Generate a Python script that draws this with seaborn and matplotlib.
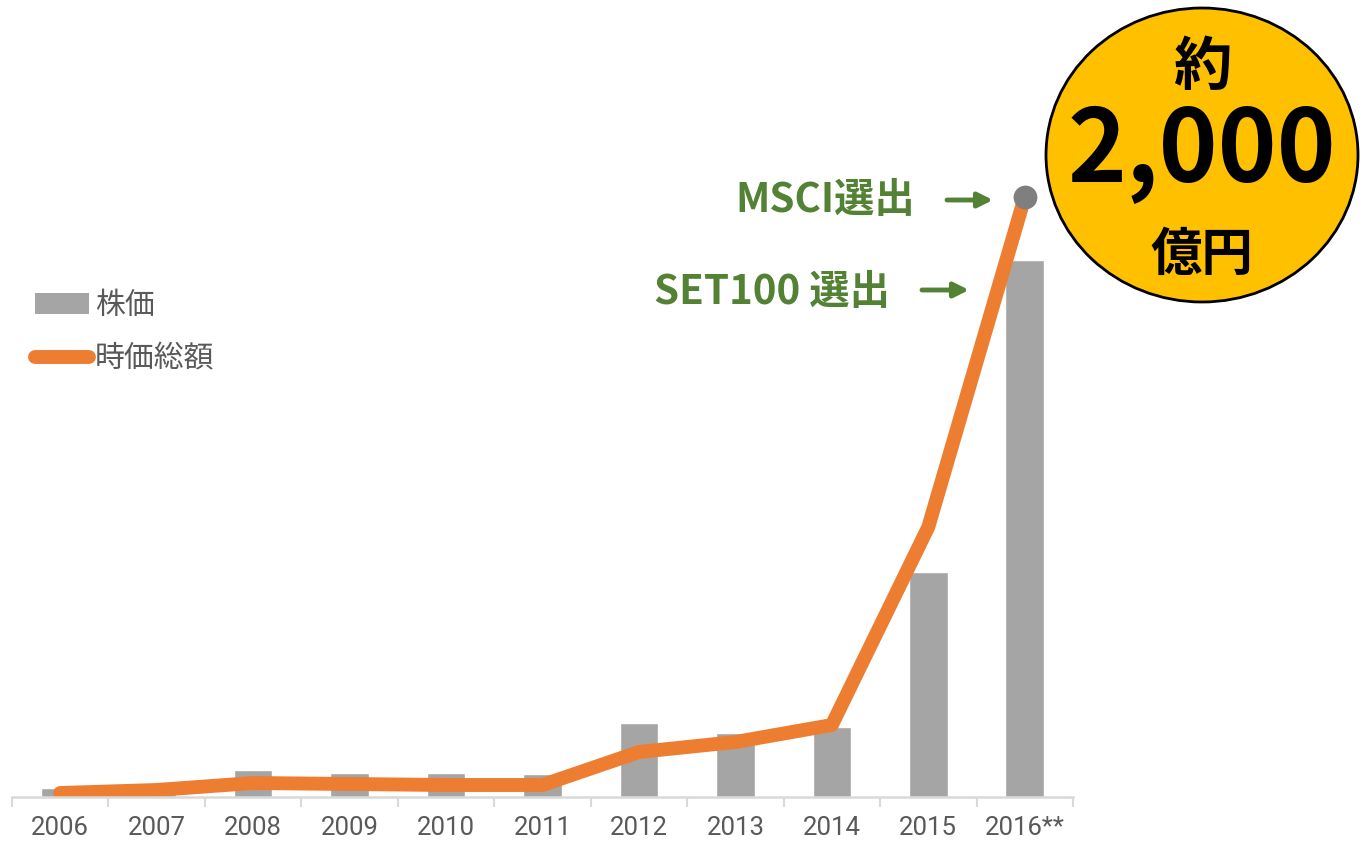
import numpy as np
import pandas as pd
import seaborn as sns
import matplotlib.pyplot as plt
from matplotlib.patches import Ellipse, Patch
from matplotlib.lines import Line2D

# values (relative units, same scale for both series)
years = ['2006', '2007', '2008', '2009', '2010', '2011',
         '2012', '2013', '2014', '2015', '2016**']
price = [9, 3, 27, 24, 24, 23, 74, 64, 70, 225, 537]
mcap = [4, 7, 14, 13, 12, 12, 45, 55, 72, 270, 600]

df = pd.DataFrame({'year': years, 'price': price, 'mcap': mcap})

sns.set_style('white')
plt.rcParams['font.family'] = ['Roboto', 'Noto Sans CJK JP', 'DejaVu Sans']

W, H = 1365, 842
fig = plt.figure(figsize=(W / 100, H / 100), dpi=100)
ax = fig.add_axes([12 / W, 45 / H, 1061 / W, 777 / H])

gray = '#A5A5A5'
orange = '#ED7D31'
green = '#548235'
cjk = ['Noto Sans CJK JP']

sns.barplot(data=df, x='year', y='price', color=gray, width=0.4,
            saturation=1, ax=ax)
sns.lineplot(data=df, x='year', y='mcap', color=orange, linewidth=10,
             solid_capstyle='round', solid_joinstyle='round', sort=False, ax=ax)
ax.scatter([years[-1]], [mcap[-1]], s=260, color='#7F7F7F', zorder=5)

ax.set_xlim(-0.5, len(years) - 0.5)
ax.set_ylim(0, 777)
ax.set_xlabel('')
ax.set_ylabel('')
ax.set_yticks([])
for s in ['top', 'right', 'left']:
    ax.spines[s].set_visible(False)
ax.spines['bottom'].set_color('#D9D9D9')
ax.spines['bottom'].set_linewidth(1.8)
ax.set_xticks(np.arange(-0.5, len(years)), minor=True)
ax.tick_params(axis='x', which='minor', length=7, width=1.5, color='#D9D9D9',
               direction='out', bottom=True)
ax.tick_params(axis='x', which='major', length=0, pad=14, labelsize=18.5,
               labelcolor='#595959')

handles = [Patch(facecolor=gray, edgecolor='none'),
           Line2D([], [], color=orange, lw=10, solid_capstyle='round')]
ax.legend(handles, ['株価', '時価総額'], loc='upper left',
          bbox_to_anchor=(35 / W, 1 - 290 / H), bbox_transform=fig.transFigure,
          frameon=False, borderpad=0, borderaxespad=0, handlelength=1.8,
          handletextpad=0.2, labelspacing=0.75,
          prop={'family': cjk, 'size': 21.5},
          labelcolor='#595959')

# overlay in pixel coordinates for callouts
ov = fig.add_axes([0, 0, 1, 1], zorder=10)
ov.set_xlim(0, W)
ov.set_ylim(H, 0)
ov.axis('off')
ov.patch.set_alpha(0)

ov.add_patch(Ellipse((1202, 155), 312, 294, facecolor='#FFC000',
                     edgecolor='black', linewidth=2))
ov.text(1202, 68, '約', ha='center', va='center', fontsize=42,
        fontweight='bold', color='black', family=cjk)
ov.text(1202, 153, '2,000', ha='center', va='center', fontsize=72,
        fontweight='bold', color='black', family=cjk)
ov.text(1202, 254, '億円', ha='center', va='center', fontsize=37,
        fontweight='bold', color='black', family=cjk)

ov.text(915, 201, 'MSCI選出', ha='right', va='center', fontsize=29,
        fontweight='bold', color=green, family=cjk)
ov.text(890, 293, 'SET100 選出', ha='right', va='center', fontsize=29,
        fontweight='bold', color=green, family=cjk)
ov.annotate('', xy=(993, 200), xytext=(947, 200),
            arrowprops=dict(arrowstyle='-|>', lw=3.5, color=green,
                            mutation_scale=22, shrinkA=0, shrinkB=0))
ov.annotate('', xy=(969, 290), xytext=(922, 290),
            arrowprops=dict(arrowstyle='-|>', lw=3.5, color=green,
                            mutation_scale=22, shrinkA=0, shrinkB=0))

fig.savefig('out.png', dpi=100)
